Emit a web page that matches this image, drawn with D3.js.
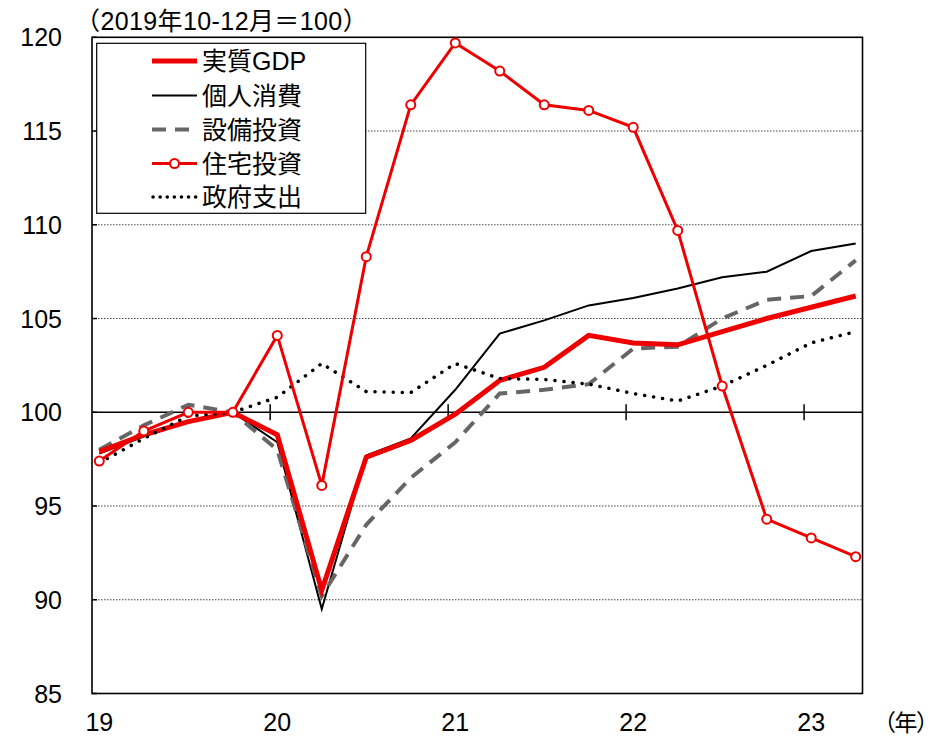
<!DOCTYPE html>
<html>
<head>
<meta charset="utf-8">
<script src="https://cdn.jsdelivr.net/npm/d3@7"></script>
<style>
  html, body { margin: 0; padding: 0; background: #fff; }
  svg { display: block; }
  text { font-family: "Liberation Sans", Arial, "Noto Sans CJK JP", sans-serif; fill: #000; }
</style>
</head>
<body>
<svg id="chart" width="938" height="736"></svg>
<script>
// ---- data ----
const quarters = ["2019Q1","2019Q2","2019Q3","2019Q4","2020Q1","2020Q2","2020Q3","2020Q4",
                  "2021Q1","2021Q2","2021Q3","2021Q4","2022Q1","2022Q2","2022Q3","2022Q4",
                  "2023Q1","2023Q2"];
const yearLabels = ["19","20","21","22","23"];
const yTicks = [85, 90, 95, 100, 105, 110, 115, 120];
const seriesNames = ["実質GDP","個人消費","設備投資","住宅投資","政府支出"];
const realGDP   = [97.9, 98.8, 99.5, 100, 98.8, 90.5, 97.6, 98.5, 99.9, 101.7, 102.4, 104.1, 103.7, 103.6, 104.3, 105.0, 105.6, 106.2];
const consumption = [97.8, 98.7, 99.5, 100, 98.4, 89.5, 97.7, 98.6, 101.2, 104.2, 104.9, 105.7, 106.1, 106.6, 107.2, 107.5, 108.6, 109.0];
const capex     = [98.0, 99.3, 100.4, 100, 98.0, 90.2, 94.0, 96.5, 98.4, 101.0, 101.2, 101.5, 103.4, 103.5, 105.0, 106.0, 106.2, 108.1];
const housing   = [97.4, 99.0, 100.0, 100, 104.1, 96.1, 108.3, 116.4, 119.7, 118.2, 116.4, 116.1, 115.2, 109.7, 101.4, 94.3, 93.3, 92.3];
const government = [97.3, 98.6, 99.8, 100, 100.8, 102.6, 101.1, 101.05, 102.6, 101.8, 101.75, 101.5, 101.0, 100.6, 101.4, 102.5, 103.7, 104.3];

// ---- layout ----
const L = 92, R = 862.5, T = 37.3, B = 693.5;
const svg = d3.select("#chart");
const x = d3.scaleLinear().domain([0, quarters.length - 1]).range([99.3, 855.7]);
const y = d3.scaleLinear().domain([85, 120]).range([B, T]);
const RED = "#ee0000";

// gridlines (dotted)
svg.append("g").selectAll("line")
  .data(yTicks.filter(v => v !== 85 && v !== 120 && v !== 100))
  .join("line")
  .attr("x1", L).attr("x2", R)
  .attr("y1", d => y(d)).attr("y2", d => y(d))
  .attr("stroke", "#444").attr("stroke-width", 1).attr("stroke-dasharray", "1.5,1.5");

// 100 baseline
svg.append("line").attr("x1", L).attr("x2", R).attr("y1", y(100)).attr("y2", y(100))
  .attr("stroke", "#000").attr("stroke-width", 1.5);

// year boundary ticks on baseline
const yearTickIdx = [1, 2, 3, 4].map(k => 4 * k - 0.16);
svg.append("g").selectAll("line").data(yearTickIdx).join("line")
  .attr("x1", d => x(d)).attr("x2", d => x(d))
  .attr("y1", y(100) - 8).attr("y2", y(100) + 8)
  .attr("stroke", "#000").attr("stroke-width", 1.5);

// left axis inside ticks
svg.append("g").selectAll("line").data(yTicks).join("line")
  .attr("x1", L).attr("x2", L + 5)
  .attr("y1", d => y(d)).attr("y2", d => y(d))
  .attr("stroke", "#000").attr("stroke-width", 1.5);

// plot border
svg.append("rect").attr("x", L).attr("y", T).attr("width", R - L).attr("height", B - T)
  .attr("fill", "none").attr("stroke", "#000").attr("stroke-width", 1.6);

// y labels
svg.append("g").selectAll("text").data(yTicks).join("text")
  .attr("x", 62).attr("y", d => y(d)).attr("dy", "0.36em")
  .attr("text-anchor", "end").attr("font-size", 25).text(d => d);

// x labels
svg.append("g").selectAll("text").data(yearLabels).join("text")
  .attr("x", (d, i) => x(i * 4)).attr("y", 731)
  .attr("text-anchor", "middle").attr("font-size", 25).text(d => d);
svg.append("text").attr("x", 873).attr("y", 731).attr("font-size", 23)
  .attr("letter-spacing", -1.5).text("（年）");

// title
svg.append("text").attr("x", 75).attr("y", 30).attr("font-size", 25)
  .attr("letter-spacing", 0.4)
  .text("（2019年10-12月＝100）");

// ---- lines ----
const line = d3.line().x((d, i) => x(i)).y(d => y(d));
const g = svg.append("g");
g.append("path").datum(consumption).attr("d", line)
  .attr("fill", "none").attr("stroke", "#000").attr("stroke-width", 2).attr("stroke-linejoin", "miter");
g.append("path").datum(capex).attr("d", line)
  .attr("fill", "none").attr("stroke", "#666").attr("stroke-width", 4).attr("stroke-dasharray", "14,9");
g.append("path").datum(realGDP).attr("d", line)
  .attr("fill", "none").attr("stroke", RED).attr("stroke-width", 5).attr("stroke-linejoin", "miter");
g.append("path").datum(government).attr("d", line)
  .attr("fill", "none").attr("stroke", "#000").attr("stroke-width", 3.5)
  .attr("stroke-dasharray", "0.1,9").attr("stroke-linecap", "round");
g.append("path").datum(housing).attr("d", line)
  .attr("fill", "none").attr("stroke", RED).attr("stroke-width", 3);
g.append("g").selectAll("circle").data(housing).join("circle")
  .attr("cx", (d, i) => x(i)).attr("cy", d => y(d)).attr("r", 4.5)
  .attr("fill", "#fff").attr("stroke", RED).attr("stroke-width", 2);

// ---- legend ----
const lg = svg.append("g");
lg.append("rect").attr("x", 96.7).attr("y", 43.3).attr("width", 269).attr("height", 170)
  .attr("fill", "#fff").attr("stroke", "#000").attr("stroke-width", 1.2);
const rowY = [61, 95.5, 129.5, 163.5, 197];
const lx1 = 152, lx2 = 197;
lg.append("line").attr("x1", lx1).attr("x2", lx2).attr("y1", rowY[0]).attr("y2", rowY[0])
  .attr("stroke", RED).attr("stroke-width", 5);
lg.append("line").attr("x1", lx1).attr("x2", lx2).attr("y1", rowY[1]).attr("y2", rowY[1])
  .attr("stroke", "#000").attr("stroke-width", 2);
lg.append("line").attr("x1", lx1).attr("x2", lx2).attr("y1", rowY[2]).attr("y2", rowY[2])
  .attr("stroke", "#666").attr("stroke-width", 4).attr("stroke-dasharray", "14,9");
lg.append("line").attr("x1", lx1).attr("x2", lx2).attr("y1", rowY[3]).attr("y2", rowY[3])
  .attr("stroke", RED).attr("stroke-width", 3);
lg.append("circle").attr("cx", (lx1 + lx2) / 2).attr("cy", rowY[3]).attr("r", 4.5)
  .attr("fill", "#fff").attr("stroke", RED).attr("stroke-width", 2);
lg.append("line").attr("x1", lx1 + 1).attr("x2", lx2).attr("y1", rowY[4]).attr("y2", rowY[4])
  .attr("stroke", "#000").attr("stroke-width", 3.5).attr("stroke-dasharray", "0.1,7").attr("stroke-linecap", "round");
lg.selectAll("text.lab").data(seriesNames).join("text").attr("class", "lab")
  .attr("x", 202).attr("y", (d, i) => rowY[i]).attr("dy", "0.36em")
  .attr("font-size", 25).text(d => d);
</script>
</body>
</html>
